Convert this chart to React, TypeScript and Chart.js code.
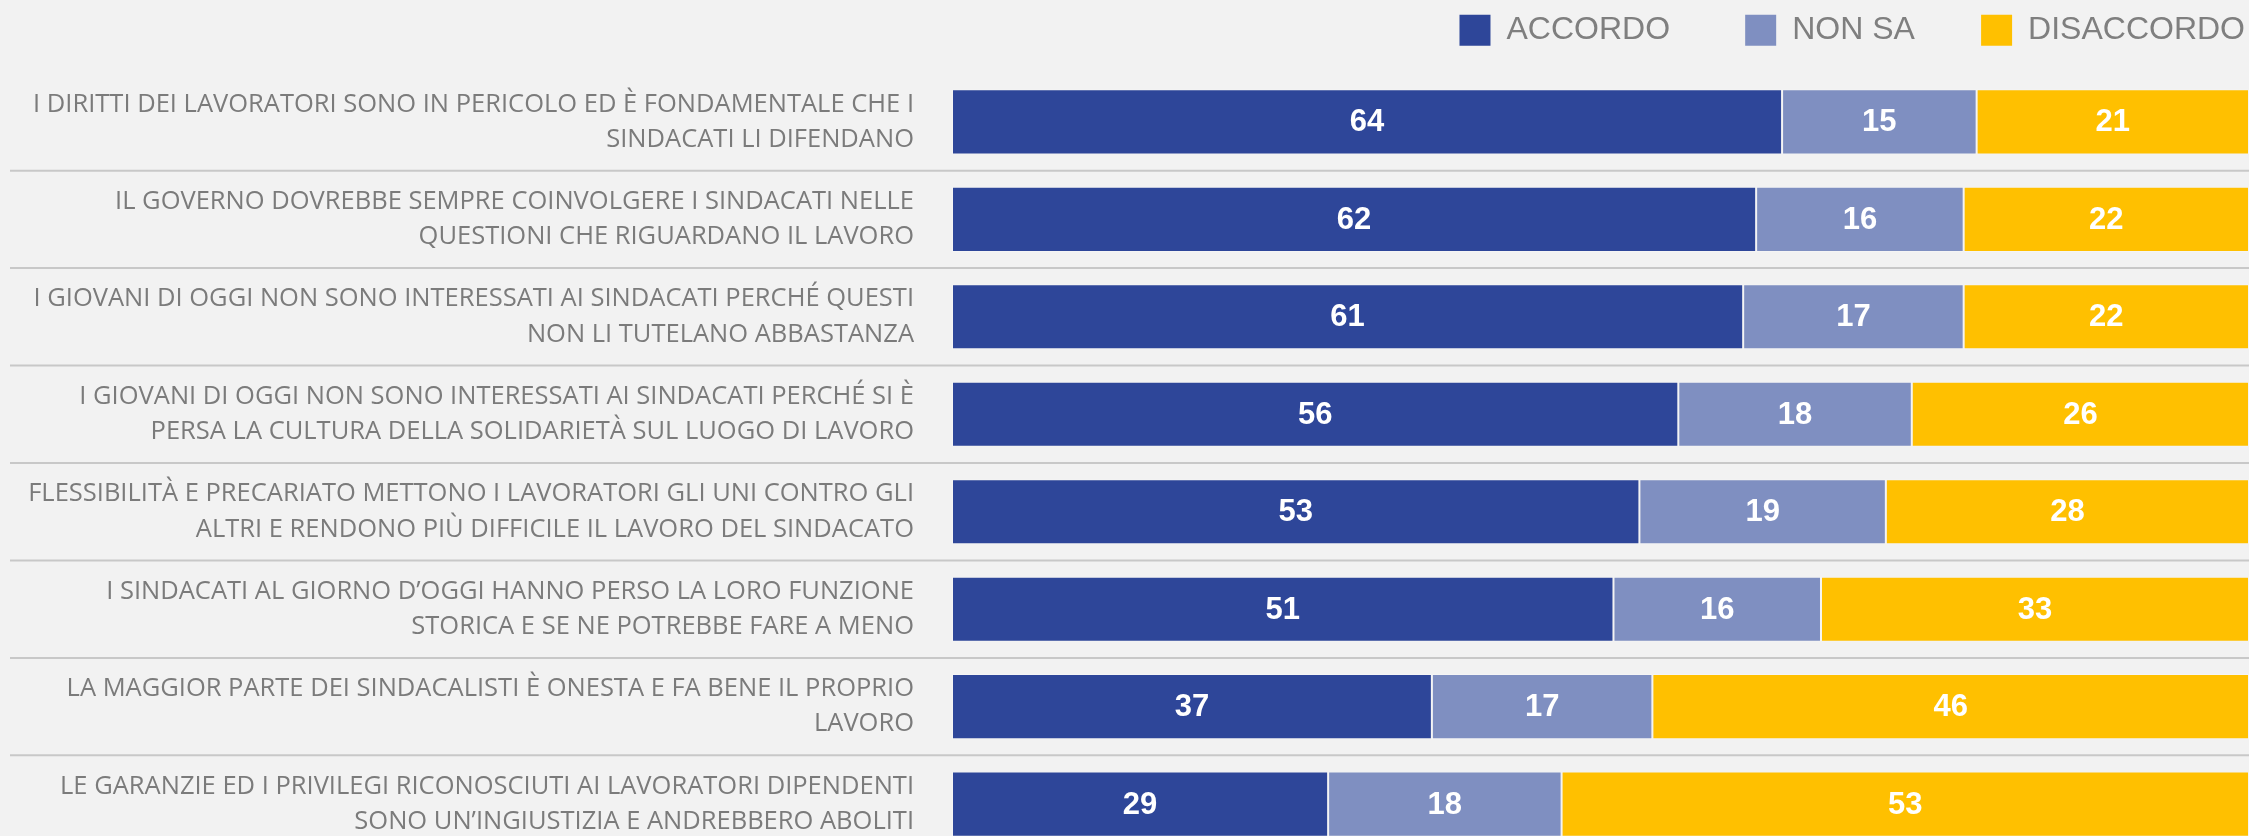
import React, { useEffect, useRef } from "react";
import { Chart, registerables } from "chart.js";

Chart.register(...registerables);

const categories: string[][] = [
  ["I DIRITTI DEI LAVORATORI SONO IN PERICOLO ED È FONDAMENTALE CHE I", "SINDACATI LI DIFENDANO"],
  ["IL GOVERNO DOVREBBE SEMPRE COINVOLGERE I SINDACATI NELLE", "QUESTIONI CHE RIGUARDANO IL LAVORO"],
  ["I GIOVANI DI OGGI NON SONO INTERESSATI AI SINDACATI PERCHÉ QUESTI", "NON LI TUTELANO ABBASTANZA"],
  ["I GIOVANI DI OGGI NON SONO INTERESSATI AI SINDACATI PERCHÉ SI È", "PERSA LA CULTURA DELLA SOLIDARIETÀ SUL LUOGO DI LAVORO"],
  ["FLESSIBILITÀ E PRECARIATO METTONO I LAVORATORI GLI UNI CONTRO GLI", "ALTRI E RENDONO PIÙ DIFFICILE IL LAVORO DEL SINDACATO"],
  ["I SINDACATI AL GIORNO D’OGGI HANNO PERSO LA LORO FUNZIONE", "STORICA E SE NE POTREBBE FARE A MENO"],
  ["LA MAGGIOR PARTE DEI SINDACALISTI È ONESTA E FA BENE IL PROPRIO", "LAVORO"],
  ["LE GARANZIE ED I PRIVILEGI RICONOSCIUTI AI LAVORATORI DIPENDENTI", "SONO UN’INGIUSTIZIA E ANDREBBERO ABOLITI"],
];

const seriesNames = ["ACCORDO", "NON SA", "DISACCORDO"];
const accordo = [64, 62, 61, 56, 53, 51, 37, 29];
const nonSa = [15, 16, 17, 18, 19, 16, 17, 18];
const disaccordo = [21, 22, 22, 26, 28, 33, 46, 53];
const seriesColors = ["#2E4699", "#7F8FC1", "#FFC000"];
const legendGaps = [8, 7, 0];

const separatorPlugin = {
  id: "rowSeparators",
  beforeDatasetsDraw(chart: any) {
    const y = chart.scales.y;
    const ctx = chart.ctx;
    ctx.save();
    ctx.strokeStyle = "#c8c8c8";
    ctx.lineWidth = 2;
    for (let i = 0; i < categories.length - 1; i++) {
      const py = (y.getPixelForValue(i) + y.getPixelForValue(i + 1)) / 2;
      ctx.beginPath();
      ctx.moveTo(10, py);
      ctx.lineTo(chart.width, py);
      ctx.stroke();
    }
    ctx.restore();
  },
};

const valueLabelPlugin = {
  id: "valueLabels",
  afterDatasetsDraw(chart: any) {
    const ctx = chart.ctx;
    ctx.save();
    ctx.font = 'bold 31px "Liberation Sans", Arial, sans-serif';
    ctx.fillStyle = "#ffffff";
    ctx.textAlign = "center";
    ctx.textBaseline = "middle";
    chart.data.datasets.forEach((ds: any, di: number) => {
      const meta = chart.getDatasetMeta(di);
      meta.data.forEach((bar: any, i: number) => {
        const p = bar.getProps(["x", "y", "base"], true);
        ctx.fillText(String(ds.data[i]), (p.x + p.base) / 2, p.y + 1);
      });
    });
    ctx.restore();
  },
};

export default function App() {
  const ref = useRef<HTMLCanvasElement | null>(null);

  useEffect(() => {
    document.body.style.background = "#f2f2f2";
    document.body.style.margin = "0";
    const canvas = ref.current;
    if (!canvas) return;
    const values = [accordo, nonSa, disaccordo];
    const chart = new Chart(canvas, {
      type: "bar",
      data: {
        labels: categories,
        datasets: seriesNames.map((name, i) => ({
          label: name,
          data: values[i],
          backgroundColor: seriesColors[i],
          borderColor: "rgba(255,255,255,0.25)",
          borderWidth: 1,
          borderSkipped: false,
          categoryPercentage: 1,
          barPercentage: 0.668,
        })),
      },
      options: {
        indexAxis: "y",
        responsive: false,
        animation: false,
        devicePixelRatio: 1,
        layout: { padding: { top: 0, right: 0, bottom: 0, left: 0 } },
        scales: {
          x: {
            stacked: true,
            min: 0,
            max: 100,
            position: "top",
            display: true,
            ticks: { display: false },
            grid: { display: false },
            border: { display: false },
            afterFit: (s: any) => {
              s.height = 17;
            },
          },
          y: {
            stacked: true,
            grid: { display: false, drawTicks: false },
            border: { display: false },
            ticks: {
              color: "#7b7b7b",
              padding: 38,
              font: { family: '"Open Sans", sans-serif', size: 25.5, lineHeight: 1.38 },
            },
            afterFit: (s: any) => {
              s.width = 952;
            },
          },
        },
        plugins: {
          tooltip: { enabled: false },
          legend: {
            position: "top",
            align: "end",
            labels: {
              boxWidth: 31,
              boxHeight: 31,
              padding: 4,
              color: "#7f7f7f",
              font: { family: '"Liberation Sans", Arial, sans-serif', size: 32 },
              generateLabels: (c: any) => {
                const items = Chart.defaults.plugins.legend.labels.generateLabels(c);
                return items.map((it: any, i: number) => ({
                  ...it,
                  lineWidth: 0,
                  text: it.text + " ".repeat(legendGaps[i]),
                }));
              },
            },
          },
        },
      },
      plugins: [separatorPlugin, valueLabelPlugin],
    });
    return () => chart.destroy();
  }, []);

  return (
    <div style={{ position: "fixed", left: 0, top: 0, width: 2249, height: 926, background: "#f2f2f2" }}>
      <canvas ref={ref} width={2249} height={926} style={{ display: "block" }} />
    </div>
  );
}
